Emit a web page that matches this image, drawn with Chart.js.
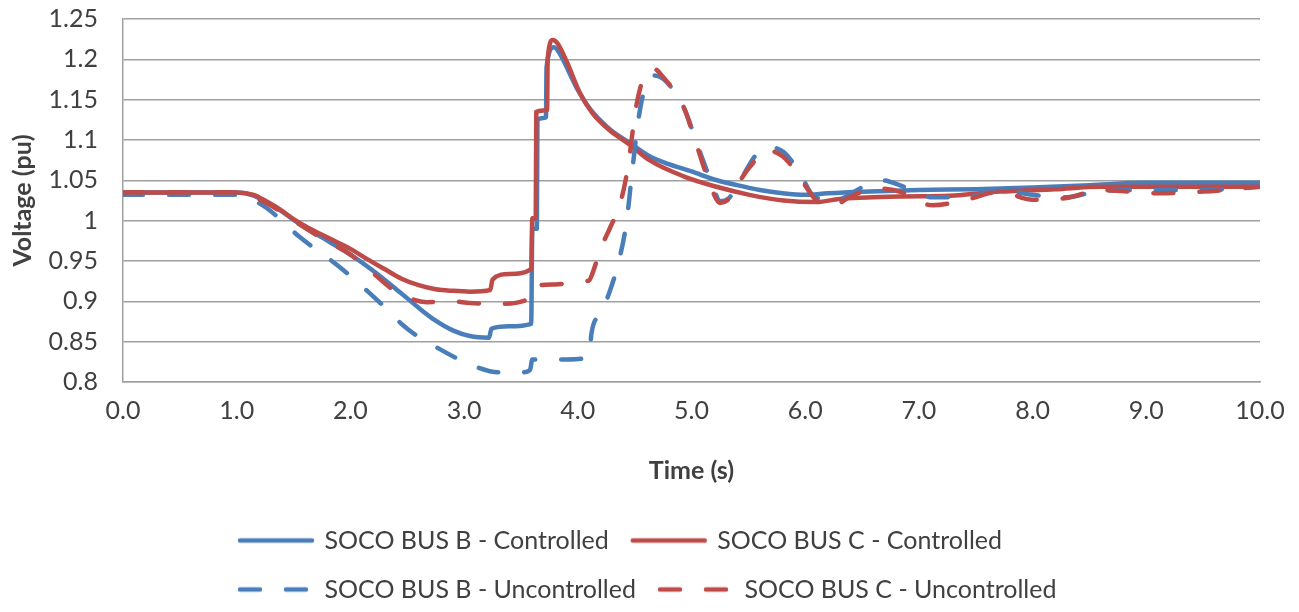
<!DOCTYPE html>
<html>
<head>
<meta charset="utf-8">
<title>SOCO bus voltage</title>
<script src="https://cdn.jsdelivr.net/npm/chart.js@4.4.1/dist/chart.umd.min.js"></script>
<style>
  body { margin: 0; background: #fff; }
</style>
</head>
<body>
<canvas id="voltchart" width="1299" height="612"></canvas>
<script>
// tick labels
var xTicks = [0, 1, 2, 3, 4, 5, 6, 7, 8, 9, 10];
var yTicks = [0.8, 0.85, 0.9, 0.95, 1, 1.05, 1.1, 1.15, 1.2, 1.25];

// SOCO BUS B - Controlled
var timeBCtrl = [0, 1.0, 1.15, 1.26, 1.38, 1.5, 1.62, 1.8, 2.0, 2.2, 2.43, 2.6, 2.75, 2.9, 3.05, 3.22, 3.24, 3.4, 3.59, 3.6, 3.64, 3.645, 3.72, 3.725, 3.79, 3.85, 3.92, 4.0, 4.1, 4.2, 4.3, 4.45, 4.63, 4.8, 5.0, 5.2, 5.4, 5.6, 5.8, 6.0, 6.2, 6.5, 7.0, 7.5, 8.0, 8.5, 9.0, 10.0];
var voltBCtrl = [1.035, 1.035, 1.031, 1.023, 1.013, 1.001, 0.990, 0.975, 0.958, 0.938, 0.912, 0.892, 0.876, 0.864, 0.857, 0.855, 0.866, 0.869, 0.872, 0.99, 0.99, 1.125, 1.128, 1.19, 1.215, 1.205, 1.185, 1.162, 1.14, 1.124, 1.111, 1.097, 1.08, 1.07, 1.061, 1.051, 1.044, 1.038, 1.034, 1.032, 1.034, 1.036, 1.038, 1.039, 1.041, 1.044, 1.047, 1.047];

// SOCO BUS C - Controlled
var timeCCtrl = [0, 1.0, 1.15, 1.26, 1.38, 1.5, 1.62, 1.8, 2.0, 2.14, 2.3, 2.45, 2.6, 2.75, 2.9, 3.05, 3.23, 3.25, 3.4, 3.59, 3.6, 3.63, 3.635, 3.73, 3.735, 3.78, 3.82, 3.9, 4.02, 4.13, 4.28, 4.46, 4.63, 4.93, 5.22, 5.51, 5.81, 6.1, 6.3, 6.83, 7.27, 7.71, 8.2, 8.59, 10.0];
var voltCCtrl = [1.035, 1.035, 1.032, 1.024, 1.014, 1.002, 0.992, 0.979, 0.965, 0.953, 0.940, 0.928, 0.920, 0.915, 0.913, 0.912, 0.914, 0.927, 0.934, 0.940, 1.003, 1.003, 1.135, 1.137, 1.200, 1.224, 1.220, 1.198, 1.158, 1.133, 1.112, 1.094, 1.075, 1.055, 1.042, 1.032, 1.025, 1.023, 1.027, 1.030, 1.031, 1.036, 1.039, 1.042, 1.042];

// SOCO BUS B - Uncontrolled
var timeBUnc = [0, 1.0, 1.1, 1.26, 1.56, 1.91, 2.21, 2.5, 2.77, 3.1, 3.3, 3.5, 3.58, 3.6, 3.9, 4.1, 4.12, 4.2, 4.28, 4.37, 4.43, 4.47, 4.51, 4.55, 4.6, 4.67, 4.75, 4.85, 4.93, 5.08, 5.19, 5.25, 5.33, 5.43, 5.57, 5.69, 5.81, 5.95, 6.07, 6.25, 6.54, 6.68, 6.83, 7.12, 7.42, 7.71, 8.0, 8.3, 8.59, 9.0, 9.5, 10.0];
var voltBUnc = [1.032, 1.032, 1.028, 1.016, 0.979, 0.942, 0.905, 0.866, 0.842, 0.819, 0.812, 0.812, 0.815, 0.828, 0.828, 0.831, 0.86, 0.885, 0.912, 0.955, 1.0, 1.05, 1.10, 1.14, 1.168, 1.18, 1.176, 1.16, 1.141, 1.083, 1.042, 1.024, 1.028, 1.05, 1.082, 1.091, 1.085, 1.06, 1.031, 1.025, 1.044, 1.05, 1.044, 1.029, 1.029, 1.038, 1.032, 1.029, 1.037, 1.038, 1.038, 1.042];

// SOCO BUS C - Uncontrolled
var timeCUnc = [0, 1.0, 1.26, 1.5, 1.75, 2.0, 2.2, 2.35, 2.5, 2.67, 2.9, 3.05, 3.3, 3.55, 3.6, 3.8, 4.05, 4.1, 4.13, 4.2, 4.28, 4.37, 4.42, 4.46, 4.5, 4.55, 4.6, 4.67, 4.75, 4.93, 5.04, 5.16, 5.25, 5.35, 5.43, 5.51, 5.66, 5.81, 5.95, 6.1, 6.25, 6.4, 6.62, 6.83, 7.12, 7.42, 7.71, 8.0, 8.3, 8.59, 9.12, 9.5, 10.0];
var voltCUnc = [1.035, 1.035, 1.022, 1.0, 0.978, 0.958, 0.935, 0.917, 0.905, 0.899, 0.900, 0.898, 0.897, 0.902, 0.918, 0.921, 0.925, 0.926, 0.935, 0.965, 0.99, 1.02, 1.05, 1.085, 1.13, 1.165, 1.182, 1.188, 1.178, 1.141, 1.096, 1.046, 1.022, 1.03, 1.05, 1.066, 1.087, 1.079, 1.054, 1.025, 1.019, 1.03, 1.04, 1.036, 1.019, 1.026, 1.036, 1.026, 1.028, 1.038, 1.034, 1.036, 1.042];

function toPoints(times, volts) {
    return times.map(function (t, i) { return { x: t, y: volts[i] }; });
}

var blue = '#4A7EBB';
var red = '#BE4B48';
var gridColor = '#a0a0a0';
var textColor = '#404040';
var fontFamily = 'Lato, "Open Sans", sans-serif';
var lineWidth = 4.5;
var dashPattern = [20, 26];

function lineSet(label, times, volts, color, dashed, order) {
    return {
        label: label,
        data: toPoints(times, volts),
        borderColor: color,
        backgroundColor: color,
        borderWidth: lineWidth,
        borderDash: dashed ? dashPattern : [],
        borderCapStyle: 'round',
        borderJoinStyle: 'round',
        pointRadius: 0,
        pointHoverRadius: 0,
        cubicInterpolationMode: 'monotone',
        fill: false,
        order: order
    };
}

// small line swatch for the legend (point style 'line' ignores dashes)
function swatch(color, dash) {
    var c = document.createElement('canvas');
    c.width = 78;
    c.height = 8;
    var g = c.getContext('2d');
    g.strokeStyle = color;
    g.lineWidth = lineWidth;
    g.lineCap = 'round';
    g.setLineDash(dash);
    g.beginPath();
    g.moveTo(3, 4);
    g.lineTo(75, 4);
    g.stroke();
    return c;
}

// legend rows start at a fixed x so the two columns line up
var legendShift = {
    id: 'legendShift',
    afterLayout: function (chart) {
        chart.legend.left = 216;
    }
};

var ctx = document.getElementById('voltchart').getContext('2d');
var voltChart = new Chart(ctx, {
    type: 'line',
    data: {
        datasets: [
            lineSet('SOCO BUS B - Controlled', timeBCtrl, voltBCtrl, blue, false, 3),
            lineSet('SOCO BUS C - Controlled', timeCCtrl, voltCCtrl, red, false, 2),
            lineSet('SOCO BUS B - Uncontrolled', timeBUnc, voltBUnc, blue, true, 1),
            lineSet('SOCO BUS C - Uncontrolled', timeCUnc, voltCUnc, red, true, 0)
        ]
    },
    options: {
        responsive: false,
        animation: false,
        layout: {
            padding: { top: 19, right: 39, bottom: 0, left: 0 }
        },
        scales: {
            x: {
                type: 'linear',
                min: 0,
                max: 10,
                afterBuildTicks: function (scale) {
                    scale.ticks = xTicks.map(function (v) { return { value: v }; });
                },
                afterFit: function (scale) { scale.height = 122; },
                grid: { display: false, drawTicks: false },
                border: { display: true, color: gridColor, width: 1.5 },
                ticks: {
                    padding: 14,
                    color: textColor,
                    font: { family: fontFamily, size: 25 },
                    maxRotation: 0,
                    callback: function (v) { return Number(v).toFixed(1); }
                },
                title: {
                    display: true,
                    text: 'Time (s)',
                    color: textColor,
                    font: { family: fontFamily, size: 25, weight: 'bold' },
                    padding: { top: 30, bottom: 18 }
                }
            },
            y: {
                min: 0.8,
                max: 1.25,
                afterBuildTicks: function (scale) {
                    scale.ticks = yTicks.map(function (v) { return { value: v }; });
                },
                afterFit: function (scale) { scale.width = 123; },
                grid: {
                    color: gridColor,
                    lineWidth: 1.5,
                    drawTicks: true,
                    tickLength: 25,
                    tickColor: 'rgba(0,0,0,0)'
                },
                border: { display: true, color: gridColor, width: 1.5 },
                ticks: {
                    padding: 0,
                    color: textColor,
                    font: { family: fontFamily, size: 25 },
                    callback: function (v) { return String(Number(v.toFixed(2))); }
                },
                title: {
                    display: true,
                    text: 'Voltage (pu)',
                    color: textColor,
                    font: { family: fontFamily, size: 25, weight: 'bold' },
                    padding: { top: 8, bottom: 4 }
                }
            }
        },
        plugins: {
            tooltip: { enabled: false },
            legend: {
                position: 'bottom',
                align: 'start',
                labels: {
                    usePointStyle: true,
                    pointStyleWidth: 72,
                    padding: 24,
                    color: textColor,
                    font: { family: fontFamily, size: 25 },
                    generateLabels: function (chart) {
                        var items = Chart.defaults.plugins.legend.labels.generateLabels(chart);
                        items.forEach(function (item) {
                            var ds = chart.data.datasets[item.datasetIndex];
                            item.pointStyle = swatch(ds.borderColor, ds.borderDash);
                        });
                        return items.sort(function (a, b) { return a.datasetIndex - b.datasetIndex; });
                    }
                }
            }
        }
    },
    plugins: [legendShift]
});
</script>
</body>
</html>
